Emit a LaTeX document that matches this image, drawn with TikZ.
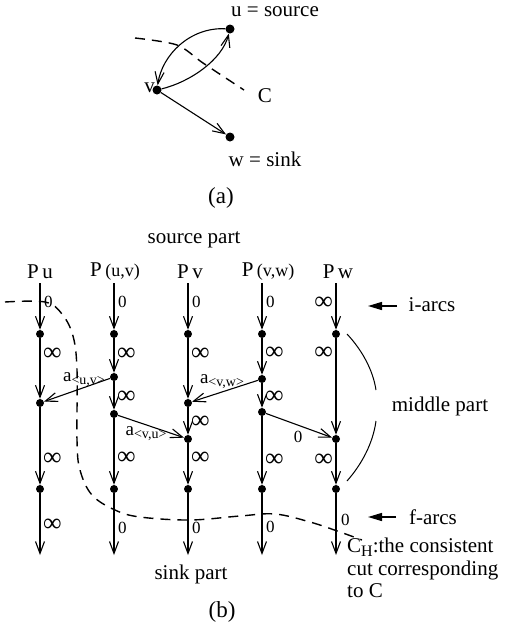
\documentclass[tikz,border=0pt]{standalone}
\usepackage{fontspec}
\setmainfont{Liberation Serif}
\usetikzlibrary{arrows.meta}
\begin{document}
\begin{tikzpicture}[x=1pt,y=-1pt,
  every node/.style={font=\fontsize{21}{25}\selectfont, inner sep=0pt},
  dot/.style={circle,fill,inner sep=0pt,minimum size=8pt},
  varr/.style={-{Straight Barb[length=12pt,width=9pt]},line width=1.1pt},
  lab/.style={font=\fontsize{17}{20}\selectfont},
  inf/.style={font=\fontsize{26}{26}\selectfont},
  cut/.style={dashed,dash pattern=on 10pt off 7pt,line width=1.4pt},
  sidearr/.style={-{Triangle[length=14pt,width=8pt]},line width=1.4pt},
  bracket/.style={line width=1pt}
]
\useasboundingbox (0,0) rectangle (512,627);
\newcommand{\sub}[1]{\raisebox{-3pt}{\fontsize{14}{14}\selectfont #1}}

% ---------- part (a)
\node[dot,minimum size=9pt] (u) at (230,29) {};
\node[dot,minimum size=9pt] (v) at (157,90) {};
\node[dot,minimum size=9pt] (w) at (230,137) {};
\node (ul) at (275,12) {u = source};
\node (wl) at (265,159) {w = sink};
\node[anchor=east] (vl) at (155,88) {v};
\node (Cl) at (265,96) {C};
\node[font=\fontsize{23}{25}\selectfont] (al) at (221,198) {(a)};
\draw[varr] (u) .. controls (190,27) and (162,55) .. (v);
\draw[varr] (v) .. controls (190,82) and (222,60) .. (u);
\draw[varr] (v) -- (w);
\draw[cut] plot[smooth] coordinates {(135,38) (177,45) (203,63) (244,90)};

% ---------- part (b)
\node (src) at (194,240) {source part};
\node (snk) at (191,574) {sink part};
\node[font=\fontsize{23}{25}\selectfont] (bl) at (222,612) {(b)};

\node (hA) at (40,272) {P\,u};
\node (hB) at (115,272) {P\,{\fontsize{18}{20}\selectfont(u,v)}};
\node (hC) at (190,272) {P\,v};
\node (hD) at (268,272) {P\,{\fontsize{18}{20}\selectfont(v,w)}};
\node (hE) at (338,272) {P\,w};

% column Pu
\coordinate (A0) at (40,283);
\node[dot] (A1) at (40,334) {};
\node[dot] (A2) at (40,403) {};
\node[dot] (A3) at (40,489) {};
\coordinate (A4) at (40,555);
% column P(u,v)
\coordinate (B0) at (114,283);
\node[dot] (B1) at (114,334) {};
\node[dot] (B2) at (114,377) {};
\node[dot] (B3) at (114,414) {};
\node[dot] (B4) at (114,489) {};
\coordinate (B5) at (114,555);
% column Pv
\coordinate (C0) at (188,283);
\node[dot] (C1) at (188,334) {};
\node[dot] (C2) at (188,403) {};
\node[dot] (C3) at (188,439) {};
\node[dot] (C4) at (188,489) {};
\coordinate (C5) at (188,555);
% column P(v,w)
\coordinate (D0) at (262,283);
\node[dot] (D1) at (262,334) {};
\node[dot] (D2) at (262,379) {};
\node[dot] (D3) at (262,412) {};
\node[dot] (D4) at (262,489) {};
\coordinate (D5) at (262,555);
% column Pw
\coordinate (E0) at (336,283);
\node[dot] (E1) at (336,334) {};
\node[dot] (E2) at (336,439) {};
\node[dot] (E3) at (336,489) {};
\coordinate (E4) at (336,555);

\draw[varr] (A0) -- (A1); \draw[varr] (A1) -- (A2); \draw[varr] (A2) -- (A3); \draw[varr] (A3) -- (A4);
\draw[varr] (B0) -- (B1); \draw[varr] (B1) -- (B2); \draw[varr] (B2) -- (B3); \draw[varr] (B3) -- (B4); \draw[varr] (B4) -- (B5);
\draw[varr] (C0) -- (C1); \draw[varr] (C1) -- (C2); \draw[varr] (C2) -- (C3); \draw[varr] (C3) -- (C4); \draw[varr] (C4) -- (C5);
\draw[varr] (D0) -- (D1); \draw[varr] (D1) -- (D2); \draw[varr] (D2) -- (D3); \draw[varr] (D3) -- (D4); \draw[varr] (D4) -- (D5);
\draw[varr] (E0) -- (E1); \draw[varr] (E1) -- (E2); \draw[varr] (E2) -- (E3); \draw[varr] (E3) -- (E4);

% cross arcs
\draw[varr] (B2) -- (A2);
\draw[varr] (D2) -- (C2);
\draw[varr] (B3) -- (C3);
\draw[varr] (D3) -- (E2);
\node (lab1) at (84,380) {\fontsize{19}{20}\selectfont a\sub{<u,v>}};
\node (lab2) at (222,382) {\fontsize{19}{20}\selectfont a\sub{<v,w>}};
\node (lab3) at (146,434) {\fontsize{19}{20}\selectfont a\sub{<v,u>}};
\node[lab] (lab4) at (298,437) {0};

% arc weights
\node[lab,anchor=west] at (44,302) {0};
\node[inf,anchor=west] at (43,354) {∞};
\node[inf,anchor=west] at (43,459) {∞};
\node[inf,anchor=west] at (43,525) {∞};
\node[lab,anchor=west] at (118,302) {0};
\node[inf,anchor=west] at (117,354) {∞};
\node[inf,anchor=west] at (117,397) {∞};
\node[inf,anchor=west] at (117,458) {∞};
\node[lab,anchor=west] at (118,528) {0};
\node[lab,anchor=west] at (192,302) {0};
\node[inf,anchor=west] at (191,354) {∞};
\node[inf,anchor=west] at (191,422) {∞};
\node[inf,anchor=west] at (191,458) {∞};
\node[lab,anchor=west] at (192,528) {0};
\node[lab,anchor=west] at (266,302) {0};
\node[inf,anchor=west] at (265,353) {∞};
\node[inf,anchor=west] at (265,397) {∞};
\node[inf,anchor=west] at (265,460) {∞};
\node[lab,anchor=west] at (266,527) {0};
\node[inf,anchor=east] at (333,303) {∞};
\node[inf,anchor=east] at (333,353) {∞};
\node[inf,anchor=east] at (333,460) {∞};
\node[lab,anchor=west] at (341,520) {0};

% side annotations
\node (ia) at (432,305) {i-arcs};
\node (fa) at (433,517) {f-arcs};
\coordinate (iat) at (397,306);
\coordinate (iah) at (368,306);
\coordinate (fat) at (396,517);
\coordinate (fah) at (368,517);
\draw[sidearr] (iat) -- (iah);
\draw[sidearr] (fat) -- (fah);
\node (mp) at (440,406) {middle part};
\draw[bracket] (347,334) .. controls (362,350) and (373,370) .. (376,390);
\draw[bracket] (376,421) .. controls (373,443) and (362,464) .. (347,481);

% consistent cut
\draw[cut] plot[smooth,tension=0.6] coordinates {(5,302) (45,302) (62,314) (73,336) (77,370) (77,440) (80,470) (92,495) (115,510) (140,517) (190,520) (240,516) (275,514) (310,522) (340,532) (362,540)};
\node[anchor=west,align=left,font=\fontsize{21}{22.5}\selectfont] (ch) at (347,568)
  {C\raisebox{-4pt}{\fontsize{16}{16}\selectfont H}:the consistent\\cut corresponding\\to C};
\end{tikzpicture}
\end{document}
